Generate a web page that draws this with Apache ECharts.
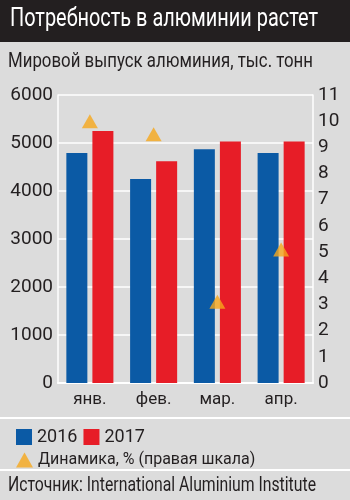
<!DOCTYPE html>
<html><head><meta charset="utf-8">
<style>html,body{margin:0;padding:0;background:#dcdcdc}#c{width:350px;height:500px}</style>
<script src="https://cdn.jsdelivr.net/npm/echarts@6/dist/echarts.min.js"></script>
</head><body><div id="c"></div>
<script>
const categories = ['янв.', 'фев.', 'мар.', 'апр.'];
const values2016 = [4790, 4250, 4870, 4790];
const values2017 = [5250, 4620, 5030, 5030];
const dynamics = [10.0, 9.5, 3.1, 5.1];
const leftTicks = {min: 0, max: 6000, interval: 1000};
const rightTicks = {min: 0, max: 11, interval: 1};
const titleText = 'Потребность в алюминии растет';
const subtitleText = 'Мировой выпуск алюминия, тыс. тонн';
const sourceText = 'Источник: International Aluminium Institute';

const FONT = 'Roboto';
const mctx = document.createElement('canvas').getContext('2d');
function fit(text, size, target) {
  mctx.font = size + 'px ' + FONT;
  return target / mctx.measureText(text).width;
}
function condensedText(text, size, left, cy, width, color) {
  return {type: 'text', x: left, y: cy, scaleX: fit(text, size, width), silent: true,
          style: {text: text, fontSize: size, fontFamily: FONT, fill: color,
                  textAlign: 'left', textVerticalAlign: 'middle'}};
}

const chart = echarts.init(document.getElementById('c'), null, {renderer: 'canvas'});
chart.setOption({
  backgroundColor: '#dcdcdc',
  textStyle: {fontFamily: FONT},
  graphic: [
    {type: 'rect', z: -1, shape: {x: 0, y: 0, width: 350, height: 42}, style: {fill: '#231f20'}},
    condensedText(titleText, 26, 10, 19, 308, '#ffffff'),
    condensedText(subtitleText, 21, 8, 62, 305, '#231f20'),
    condensedText(sourceText, 20, 8, 486, 308, '#231f20'),
    {type: 'line', shape: {x1: 0, y1: 418, x2: 350, y2: 418}, style: {stroke: '#ffffff', lineWidth: 2}},
    {type: 'line', shape: {x1: 0, y1: 470, x2: 350, y2: 470}, style: {stroke: '#ffffff', lineWidth: 2}}
  ],
  legend: [
    {data: ['2016', '2017'], left: 11, top: 423, itemWidth: 16, itemHeight: 16, itemGap: 6,
     icon: 'rect', textStyle: {fontSize: 18, color: '#231f20', fontFamily: FONT}},
    {data: ['Динамика, % (правая шкала)'], left: 11, top: 447, itemWidth: 17, itemHeight: 15,
     icon: 'triangle', textStyle: {fontSize: 16, color: '#231f20', fontFamily: FONT}}
  ],
  grid: {left: 58, right: 37, top: 95, bottom: 117},
  xAxis: {
    type: 'category', data: categories,
    axisLine: {lineStyle: {color: '#ffffff', width: 2}},
    axisTick: {show: false},
    axisLabel: {color: '#231f20', fontSize: 17, margin: 8, fontFamily: FONT}
  },
  yAxis: [
    {type: 'value', min: leftTicks.min, max: leftTicks.max, interval: leftTicks.interval,
     axisLine: {show: true, lineStyle: {color: '#ffffff', width: 1.5}},
     axisTick: {show: false},
     splitLine: {lineStyle: {color: '#ffffff', width: 1.5}},
     axisLabel: {color: '#231f20', fontSize: 19, margin: 5, fontFamily: FONT,
                 formatter: v => String(v)}},
    {type: 'value', position: 'right', min: rightTicks.min, max: rightTicks.max, interval: rightTicks.interval,
     axisLine: {show: true, lineStyle: {color: '#ffffff', width: 1.5}},
     axisTick: {show: false},
     splitLine: {show: false},
     axisLabel: {color: '#231f20', fontSize: 19, margin: 5, fontFamily: FONT,
                 formatter: v => String(v)}}
  ],
  series: [
    {name: '2016', type: 'bar', data: values2016, itemStyle: {color: '#0b5aa5'},
     barWidth: 21, barGap: '24%'},
    {name: '2017', type: 'bar', data: values2017, itemStyle: {color: '#e71d27'},
     barWidth: 21},
    {name: 'Динамика, % (правая шкала)', type: 'scatter', yAxisIndex: 1, data: dynamics,
     symbol: 'triangle', symbolSize: [16, 14], itemStyle: {color: '#f6a81b'}, z: 5}
  ]
});
</script></body></html>
